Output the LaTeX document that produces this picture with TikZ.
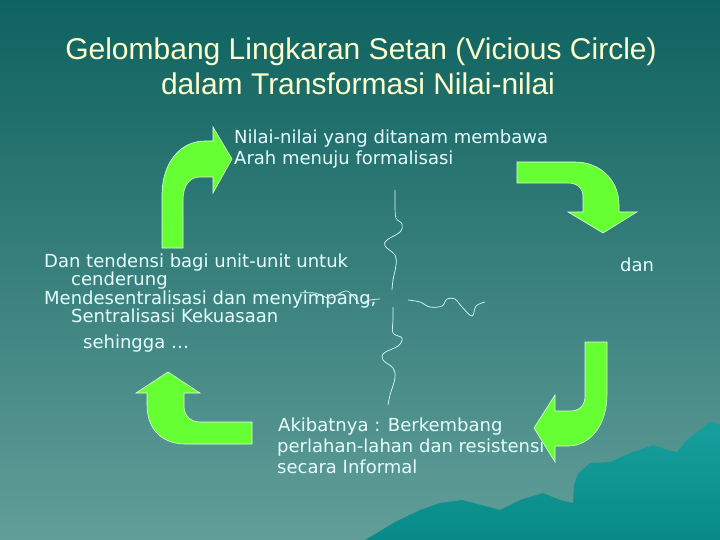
\documentclass[tikz,border=0pt]{standalone}
\usepackage{fontspec}
\setmainfont{Liberation Sans}
\newfontfamily\bodyfont{DejaVu Sans}
\definecolor{bgtop}{RGB}{14,98,96}
\definecolor{bgbot}{RGB}{98,158,153}
\definecolor{mtntop}{RGB}{22,160,157}
\definecolor{mtnbot}{RGB}{8,138,136}
\definecolor{arrowgreen}{RGB}{102,255,51}
\definecolor{titlecol}{RGB}{255,255,204}
\definecolor{textcol}{RGB}{230,255,255}
\definecolor{wavecol}{RGB}{215,255,255}
\tikzset{
  titletext/.style={inner sep=0, anchor=base, text=titlecol, font=\fontsize{30}{35}\selectfont},
  bodytext/.style={inner sep=0, anchor=base west, text=textcol, font=\bodyfont\fontsize{18}{21}\selectfont},
  bentarrow/.style={fill=arrowgreen, draw=white!80!arrowgreen, line width=0.6pt, line join=miter},
  wave/.style={draw=wavecol, line width=0.7pt}
}
\begin{document}
\begin{tikzpicture}[x=1pt,y=-1pt]
\useasboundingbox (0,0) rectangle (720,540);
% background
\shade[top color=bgtop, bottom color=bgbot] (0,0) rectangle (720,540);
% mountains
\shade[top color=mtntop, bottom color=mtnbot]
  (365,540) -- (395,522) -- (420,510) -- (440,503) -- (462,500) -- (485,506) -- (500,510)
  -- (520,500) -- (543,493) -- (560,500) -- (573,503) -- (574,485) -- (578,474) -- (590,463)
  -- (610,462) -- (633,452) -- (653,445) -- (665,449) -- (677,452) -- (687,440) -- (700,430)
  -- (710,422) -- (720,425) -- (720,540) -- cycle;
% title
\node[titletext] (t1) at (361,60) {Gelombang Lingkaran Setan (Vicious Circle)};
\node[titletext] (t2) at (358,95) {dalam Transformasi Nilai-nilai};
% top text
\node[bodytext] (top1) at (234,144) {Nilai-nilai yang ditanam membawa};
\node[bodytext] (top2) at (234,165) {Arah menuju formalisasi};
% left text
\node[bodytext] (l1) at (44,267) {Dan tendensi bagi unit-unit untuk};
\node[bodytext] (l2) at (71,285.5) {cenderung};
\node[bodytext] (l3) at (44,304) {Mendesentralisasi dan menyimpang,};
\node[bodytext] (l4) at (71,322.5) {Sentralisasi Kekuasaan};
\node[bodytext] (l5) at (83,348) {sehingga …};
% right text
\node[bodytext] (dan) at (620,271) {dan};
% bottom text
\node[bodytext] (b1) at (278,431) {Akibatnya : Berkembang};
\node[bodytext] (b2) at (277,452) {perlahan-lahan dan resistensi};
\node[bodytext] (b3) at (277,473) {secara Informal};
% wavy lines
\draw[wave] plot[smooth, tension=0.6] coordinates {(395,190) (395,205) (396,218) (402,224) (400,232) (387,240) (385,246) (395,255) (396,265) (393,280) (392,290)};
\draw[wave] plot[smooth, tension=0.6] coordinates {(300,293) (315,293) (330,298) (345,291) (352,295) (359,304)};
\draw[wave] plot[smooth, tension=0.6] coordinates {(363,303) (370,300) (380,299)};
\draw[wave] plot[smooth, tension=0.6] coordinates {(408,300) (420,302) (430,307) (442,306) (447,299) (455,299) (462,307) (472,316) (476,306) (485,302)};
\draw[wave] plot[smooth, tension=0.6] coordinates {(393,307) (393,320) (393,333) (402,338) (398,346) (384,353) (383,360) (393,368) (395,378) (390,395) (388,405)};
% arrow 1 (top-left)
\draw[bentarrow] (162,248) -- (162,195) .. controls (162,163) and (180,141) .. (205,141)
  -- (213,141) -- (213,127) -- (232,159) -- (213,193) -- (213,177) -- (200,177)
  .. controls (190,177) and (183,185) .. (183,200) -- (183,248) -- cycle;
% arrow 2 (top-right)
\draw[bentarrow] (517,162) -- (575,162) .. controls (600,162) and (619,180) .. (619,205)
  -- (619,212) -- (637,212) -- (603,233) -- (568,212) -- (583,212) -- (583,197)
  .. controls (583,188) and (577,183) .. (568,183) -- (517,183) -- cycle;
% arrow 3 (bottom-left)
\draw[bentarrow] (252,422) -- (200,422) .. controls (190,422) and (184,415) .. (184,406)
  -- (184,393) -- (200,393) -- (168,372) -- (136,393) -- (147,393) -- (147,405)
  .. controls (147,430) and (163,444) .. (185,444) -- (252,444) -- cycle;
% arrow 4 (bottom-right)
\draw[bentarrow] (585,342) -- (607,342) -- (607,395) .. controls (607,425) and (590,446) .. (568,446)
  -- (555,446) -- (555,462) -- (534,428) -- (555,395) -- (555,411) -- (570,411)
  .. controls (580,411) and (585,405) .. (585,396) -- cycle;
\end{tikzpicture}
\end{document}
